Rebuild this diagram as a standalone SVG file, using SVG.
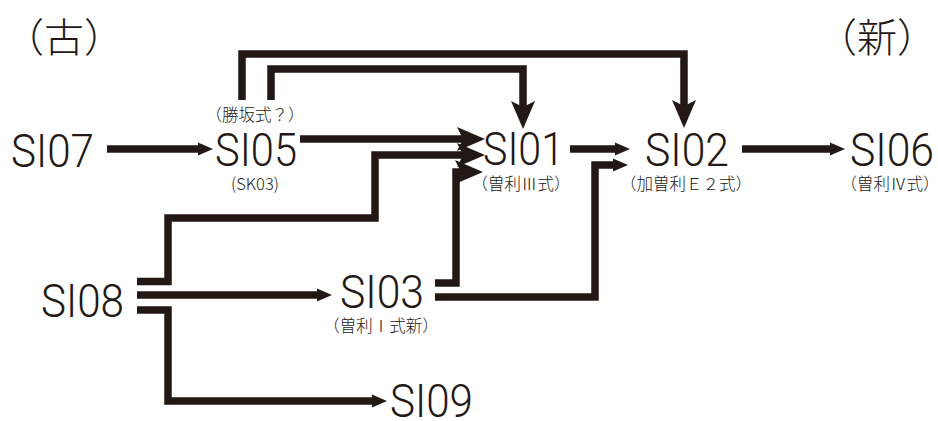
<svg xmlns="http://www.w3.org/2000/svg" width="938" height="421" viewBox="0 0 938 421">
<style>
.big{font-family:Roboto,"Liberation Sans",Arial,sans-serif;font-weight:300;font-size:47px;fill:#231815}
.sub{font-family:"Noto Sans CJK JP","Liberation Sans",sans-serif;font-weight:300;font-size:16.5px;fill:#231815;text-anchor:middle}
.title{font-family:"Noto Sans CJK JP",sans-serif;font-weight:300;font-size:40px;fill:#231815}
.ln{fill:none;stroke:#231815;stroke-width:7.5;stroke-linejoin:miter;stroke-linecap:butt}
.sa{marker-end:url(#sm)}
.la{marker-end:url(#lg)}
</style>
<defs>
<marker id="sm" markerUnits="userSpaceOnUse" viewBox="0 -8 16 16" refX="2" refY="0" markerWidth="16" markerHeight="16" orient="auto">
<path d="M0,-6.5 L15,0 L0,6.5 Z" fill="#231815"/>
</marker>
<marker id="lg" markerUnits="userSpaceOnUse" viewBox="0 -13 30 26" refX="8" refY="0" markerWidth="30" markerHeight="26" orient="auto">
<path d="M0,-12 L28,0 L0,12 L6,0 Z" fill="#231815"/>
</marker>
</defs>

<text class="title" x="4" y="52">（古）</text>
<text class="title" x="817" y="52">（新）</text>

<g id="connectors">
<path class="ln sa" d="M107,149 H200"/>
<path class="ln la" d="M300,139 H465"/>
<path class="ln la" d="M242,100 V54 H684 V108"/>
<path class="ln la" d="M271,100 V69 H523 V109"/>
<path class="ln sa" d="M570,149 H617"/>
<path class="ln sa" d="M435,297 H595 V165 H615"/>
<path class="ln la" d="M435,283 H456 V172 H463"/>
<path class="ln la" d="M137,281.5 H168 V218 H375 V155 H465"/>
<path class="ln sa" d="M137,295 H319"/>
<path class="ln sa" d="M137,310 H168 V401 H374"/>
<path class="ln sa" d="M742,149 H832"/>
</g>

<g id="SI07"><text class="big" x="11" y="167" textLength="83" lengthAdjust="spacingAndGlyphs">SI07</text></g>
<g id="SI05">
<text class="sub" x="255" y="121">（勝坂式？）</text>
<text class="big" x="215" y="166" textLength="82" lengthAdjust="spacingAndGlyphs">SI05</text>
<text class="sub" x="255" y="190">(SK03)</text>
</g>
<g id="SI01">
<text class="big" x="483" y="165" textLength="81" lengthAdjust="spacingAndGlyphs">SI01</text>
<text class="sub" x="521" y="190">（曽利Ⅲ式）</text>
</g>
<g id="SI02">
<text class="big" x="645" y="166" textLength="84" lengthAdjust="spacingAndGlyphs">SI02</text>
<text class="sub" x="686" y="190">（加曽利Ｅ２式）</text>
</g>
<g id="SI06">
<text class="big" x="850" y="166" textLength="84" lengthAdjust="spacingAndGlyphs">SI06</text>
<text class="sub" x="890" y="190">（曽利Ⅳ式）</text>
</g>
<g id="SI08"><text class="big" x="41" y="317" textLength="83" lengthAdjust="spacingAndGlyphs">SI08</text></g>
<g id="SI03">
<text class="big" x="340" y="308" textLength="84" lengthAdjust="spacingAndGlyphs">SI03</text>
<text class="sub" x="381" y="332">（曽利Ⅰ式新）</text>
</g>
<g id="SI09"><text class="big" x="390" y="417" textLength="83" lengthAdjust="spacingAndGlyphs">SI09</text></g>
</svg>
